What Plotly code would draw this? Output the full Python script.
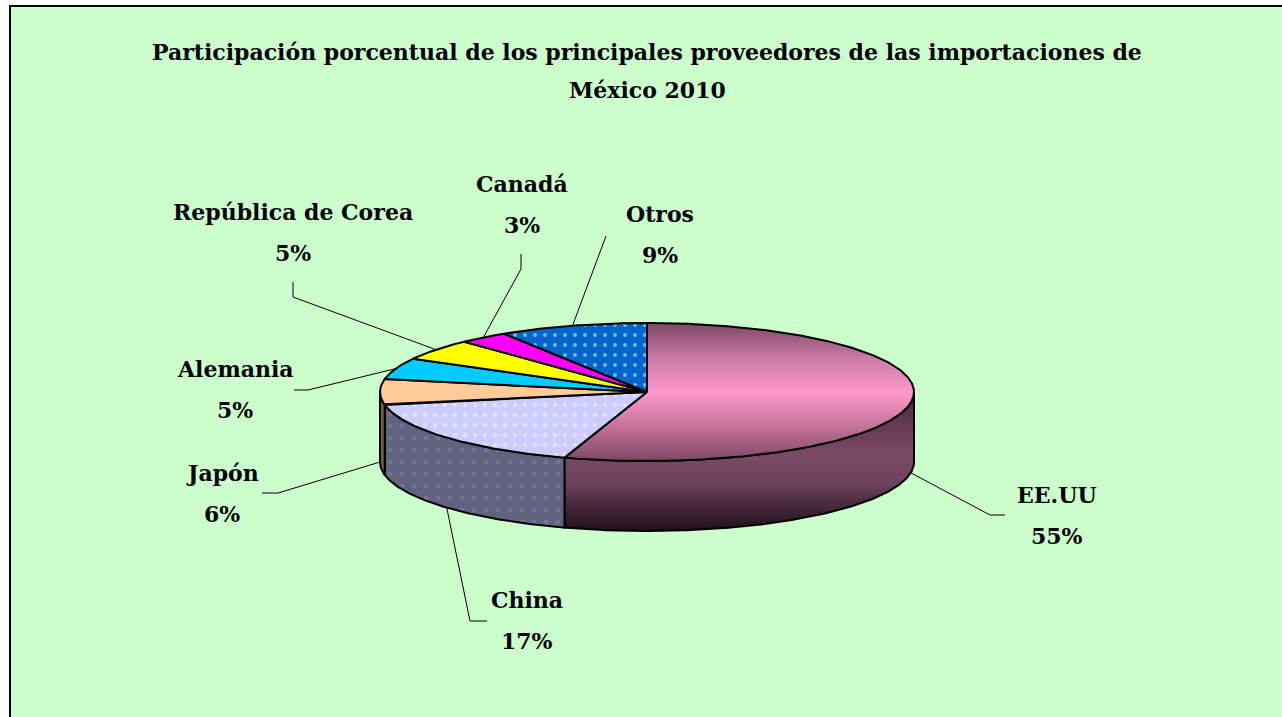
import numpy as np
import plotly.graph_objects as go

# ---------------- data ----------------
countries = ["EE.UU", "China", "Japón", "Alemania", "República de Corea", "Canadá", "Otros"]
shares = [55, 17, 6, 5, 5, 3, 9]

title_line1 = "Participación porcentual de los principales proveedores de las importaciones de"
title_line2 = "México 2010"

# ---------------- styles ----------------
top_colors = ["#FF99CC", "#CCCCFF", "#FFCC99", "#00CCFF", "#FFFF00", "#FF00FF", "#0066CC"]
side_colors = ["#7A4A66", "#616180", "#8A5A30", "#0088AA", "#AAAA00", "#AA00AA", "#004488"]
dotted = {"China": True, "Otros": True}

W, H = 1282, 717
CX, CY, RX, RY, DEPTH = 647, 392, 267, 69, 70

# label positions (layout, pixel space)
label_pos = {
    "EE.UU": (1057, 495),
    "China": (527, 600),
    "Japón": (222, 473),
    "Alemania": (235, 369),
    "República de Corea": (293, 212),
    "Canadá": (522, 184),
    "Otros": (660, 214),
}
leader_elbow = {
    "EE.UU": [(990, 515), (1005, 515)],
    "China": [(470, 621), (487, 621)],
    "Japón": [(278, 493), (262, 493)],
    "Alemania": [(308, 390), (294, 390)],
    "República de Corea": [(293, 297), (293, 282)],
    "Canadá": [(521, 269), (521, 254)],
    "Otros": [(606, 236)],
}


def pt(theta_deg, dz=0.0):
    t = np.radians(theta_deg)
    return CX + RX * np.sin(t), CY - RY * np.cos(t) + dz


def arc(a, b, dz=0.0, n=None):
    if n is None:
        n = max(4, int(abs(b - a) * 2))
    th = np.linspace(a, b, n)
    xs, ys = pt(th, dz)
    return list(xs), list(ys)


fig = go.Figure()

total = sum(shares)
bounds = []
acc = 0.0
for v in shares:
    a = acc / total * 360
    acc += v
    b = acc / total * 360
    bounds.append((a, b))

font_family = "DejaVu Serif"

# ---- side walls (front half only: 90..270 deg) ----
for i, (name, (a, b)) in enumerate(zip(countries, bounds)):
    lo, hi = max(a, 90), min(b, 270)
    if hi <= lo:
        continue
    x1, y1 = arc(lo, hi)
    x2, y2 = arc(hi, lo, DEPTH)
    xs = x1 + x2 + [x1[0]]
    ys = y1 + y2 + [y1[0]]
    kw = dict(fillcolor=side_colors[i])
    if name == "EE.UU":
        kw["fillgradient"] = dict(
            type="vertical", start=CY, stop=CY + RY + DEPTH,
            colorscale=[[0, "#4A2A3C"], [0.45, "#7A4A66"], [0.65, "#6E425C"], [1, "#1E1018"]])
    if dotted.get(name):
        kw["fillpattern"] = dict(shape=".", fgcolor="#8A8AA0", bgcolor=side_colors[i],
                                 size=12, solidity=0.12)
    fig.add_trace(go.Scatter(x=xs, y=ys, mode="lines", fill="toself",
                             line=dict(color="black", width=2), hoverinfo="skip",
                             showlegend=False, **kw))

# ---- top faces ----
for i, (name, (a, b)) in enumerate(zip(countries, bounds)):
    xa, ya = arc(a, b)
    xs = [CX] + xa + [CX]
    ys = [CY] + ya + [CY]
    kw = dict(fillcolor=top_colors[i])
    if name == "EE.UU":
        kw["fillgradient"] = dict(
            type="vertical", start=CY - RY, stop=CY + RY,
            colorscale=[[0, "#7E4766"], [0.25, "#C87AA4"], [0.5, "#FF99CC"],
                        [0.75, "#C47398"], [1, "#7E4766"]])
    if dotted.get(name):
        kw["fillpattern"] = dict(shape=".", fgcolor="white", bgcolor=top_colors[i],
                                 size=10, solidity=0.12)
    fig.add_trace(go.Scatter(x=xs, y=ys, mode="lines", fill="toself",
                             line=dict(color="black", width=2), hoverinfo="skip",
                             showlegend=False, **kw))

# ---- leader lines + labels ----
lx, ly = [], []
for name, (a, b), v in zip(countries, bounds, shares):
    mid = (a + b) / 2
    front = np.cos(np.radians(mid)) < 0
    px, py = pt(mid, DEPTH if front else 0)
    pts = [(px, py)] + leader_elbow[name]
    for (x, y) in pts:
        lx.append(x)
        ly.append(y)
    lx.append(None)
    ly.append(None)
    cx, cy = label_pos[name]
    fig.add_annotation(x=cx, y=cy, text=f"<b>{name}</b>", showarrow=False,
                       font=dict(family=font_family, size=22, color="black"),
                       xanchor="center", yanchor="middle")
    fig.add_annotation(x=cx, y=cy + 41, text=f"<b>{v}%</b>", showarrow=False,
                       font=dict(family=font_family, size=22, color="black"),
                       xanchor="center", yanchor="middle")

fig.add_trace(go.Scatter(x=lx, y=ly, mode="lines", line=dict(color="black", width=1),
                         hoverinfo="skip", showlegend=False))

# ---- title ----
fig.add_annotation(x=647, y=52, text=f"<b>{title_line1}</b>", showarrow=False,
                   font=dict(family=font_family, size=22, color="black"),
                   xanchor="center", yanchor="middle")
fig.add_annotation(x=647, y=90, text=f"<b>{title_line2}</b>", showarrow=False,
                   font=dict(family=font_family, size=22, color="black"),
                   xanchor="center", yanchor="middle")

# ---- background frame ----
fig.add_shape(type="rect", x0=10, y0=6, x1=W + 20, y1=H + 20, xref="x", yref="y",
              fillcolor="#CCFFCC", line=dict(color="black", width=2), layer="below")

fig.update_layout(
    width=W, height=H,
    margin=dict(l=0, r=0, t=0, b=0),
    paper_bgcolor="white", plot_bgcolor="white",
    xaxis=dict(range=[0, W], visible=False, fixedrange=True),
    yaxis=dict(range=[H, 0], visible=False, fixedrange=True),
    showlegend=False,
)

fig.write_html("out.html", config={"displayModeBar": False},
               post_script="document.body.style.margin='0';document.body.style.overflow='hidden';")
